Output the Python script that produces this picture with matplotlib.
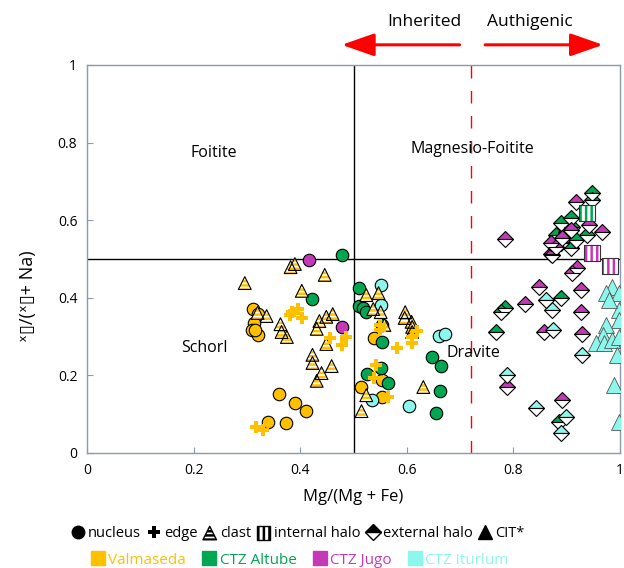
import matplotlib
matplotlib.use('Agg')
import matplotlib.pyplot as plt
from matplotlib.lines import Line2D

plt.rcParams['font.family'] = ['Open Sans', 'DejaVu Sans']
plt.rcParams['hatch.linewidth'] = 1.8

ORANGE = '#FFC000'
GREEN = '#00A651'
MAGENTA = '#C43AB6'
CYAN = '#8CF7EC'

# ---------------- data ----------------
# Valmaseda
val_nuc_x = [0.311, 0.320, 0.313, 0.309, 0.320, 0.316, 0.361, 0.390, 0.410, 0.339, 0.373, 0.539, 0.515, 0.554, 0.554]
val_nuc_y = [0.371, 0.358, 0.335, 0.317, 0.304, 0.317, 0.152, 0.129, 0.108, 0.080, 0.077, 0.296, 0.170, 0.188, 0.144]
val_edge_x = [0.384, 0.395, 0.403, 0.380, 0.455, 0.478, 0.485, 0.318, 0.331, 0.549, 0.549, 0.582, 0.609, 0.609, 0.620, 0.543, 0.539, 0.564]
val_edge_y = [0.363, 0.371, 0.348, 0.356, 0.296, 0.278, 0.299, 0.067, 0.059, 0.330, 0.317, 0.271, 0.284, 0.299, 0.314, 0.227, 0.193, 0.144]
val_clast_x = [0.296, 0.382, 0.390, 0.446, 0.403, 0.320, 0.337, 0.363, 0.365, 0.375, 0.436, 0.449, 0.461, 0.431, 0.449,
               0.423, 0.423, 0.440, 0.431, 0.459, 0.524, 0.547, 0.537, 0.551, 0.597, 0.596, 0.609, 0.610, 0.610, 0.558,
               0.631, 0.524, 0.515]
val_clast_y = [0.438, 0.479, 0.487, 0.459, 0.418, 0.361, 0.353, 0.332, 0.312, 0.299, 0.340, 0.351, 0.358, 0.320, 0.281,
               0.253, 0.232, 0.206, 0.186, 0.224, 0.407, 0.412, 0.371, 0.363, 0.363, 0.348, 0.338, 0.325, 0.312, 0.330,
               0.170, 0.149, 0.108]

# CTZ Altube
alt_nuc_x = [0.478, 0.423, 0.511, 0.511, 0.517, 0.524, 0.554, 0.648, 0.665, 0.526, 0.552, 0.564, 0.663, 0.654, 0.554]
alt_nuc_y = [0.510, 0.397, 0.425, 0.379, 0.374, 0.363, 0.286, 0.247, 0.224, 0.204, 0.219, 0.180, 0.160, 0.103, 0.330]
alt_int_x = [0.938]
alt_int_y = [0.619]
alt_ext_x = [0.785, 0.777, 0.768, 0.890, 0.886, 0.948, 0.948, 0.890, 0.880, 0.910, 0.899, 0.918, 0.938, 0.908, 0.890, 0.908]
alt_ext_y = [0.374, 0.363, 0.312, 0.399, 0.080, 0.670, 0.652, 0.593, 0.562, 0.582, 0.570, 0.549, 0.562, 0.528, 0.541, 0.606]

# CTZ Jugo
jug_nuc_x = [0.416, 0.479]
jug_nuc_y = [0.497, 0.325]
jug_int_x = [0.948, 0.981]
jug_int_y = [0.515, 0.482]
jug_ext_x = [0.785, 0.918, 0.908, 0.891, 0.871, 0.880, 0.871, 0.942, 0.966, 0.919, 0.910, 0.848, 0.927, 0.822, 0.927,
             0.858, 0.929, 0.788, 0.891, 0.873]
jug_ext_y = [0.552, 0.647, 0.575, 0.554, 0.541, 0.531, 0.513, 0.588, 0.570, 0.477, 0.464, 0.428, 0.420, 0.384, 0.363,
             0.312, 0.307, 0.170, 0.137, 0.510]

# CTZ Iturlum
itu_nuc_x = [0.552, 0.552, 0.661, 0.672, 0.534, 0.605]
itu_nuc_y = [0.433, 0.381, 0.302, 0.307, 0.137, 0.121]
itu_ext_x = [0.861, 0.873, 0.875, 0.929, 0.788, 0.843, 0.899, 0.890]
itu_ext_y = [0.394, 0.369, 0.317, 0.253, 0.201, 0.116, 0.093, 0.052]
itu_cit_x = [0.985, 0.974, 0.998, 0.998, 0.998, 0.974, 0.968, 0.955, 0.970, 0.985, 0.998, 0.989, 0.998, 0.979, 0.994]
itu_cit_y = [0.428, 0.412, 0.412, 0.369, 0.343, 0.330, 0.304, 0.284, 0.284, 0.291, 0.299, 0.175, 0.080, 0.394, 0.253]

x_ticks = [0, 0.2, 0.4, 0.6, 0.8, 1]
tick_labels = ['0', '0.2', '0.4', '0.6', '0.8', '1']

# ---------------- figure ----------------
fig = plt.figure(figsize=(6.24, 5.68), dpi=100)
ax = fig.add_axes([87 / 624, 1 - 453 / 568, (620 - 87) / 624, (453 - 65) / 568])
ax.set_xlim(0, 1)
ax.set_ylim(0, 1)
ax.set_xticks(x_ticks)
ax.set_xticklabels(tick_labels)
ax.set_yticks(x_ticks)
ax.set_yticklabels(tick_labels)
SPINE = '#8C9AAB'
for s in ax.spines.values():
    s.set_color(SPINE)
    s.set_linewidth(1)
ax.tick_params(direction='in', length=4, color=SPINE, labelsize=10, pad=7)

ax.axhline(0.5, color='black', lw=1, zorder=1)
ax.axvline(0.5, color='black', lw=1, zorder=1)
ax.axvline(0.72, color='red', lw=1, ls=(0, (9, 9)), zorder=1)

# nucleus circles
CS = 9
for xs, ys, c in [(val_nuc_x, val_nuc_y, ORANGE), (alt_nuc_x, alt_nuc_y, GREEN),
                  (jug_nuc_x, jug_nuc_y, MAGENTA), (itu_nuc_x, itu_nuc_y, CYAN)]:
    ax.plot(xs, ys, 'o', ms=CS, mfc=c, mec='black', mew=0.8, zorder=3)

# external halo diamonds (top half coloured)
for xs, ys, c in [(alt_ext_x, alt_ext_y, GREEN), (jug_ext_x, jug_ext_y, MAGENTA), (itu_ext_x, itu_ext_y, CYAN)]:
    ax.plot(xs, ys, 'D', ms=8, fillstyle='top', mfc=c, mfcalt='white', mec='black', mew=0.8, zorder=3)

# clast triangles (striped)
ax.scatter(val_clast_x, val_clast_y, s=85, marker='^', facecolor='white', edgecolor=ORANGE,
           hatch='----', linewidth=0, zorder=4)
ax.scatter(val_clast_x, val_clast_y, s=85, marker='^', facecolor='none', edgecolor='black',
           linewidth=0.8, zorder=4)

# edge pluses
ax.plot(val_edge_x, val_edge_y, 'P', ms=9, mfc=ORANGE, mec=ORANGE, mew=0, zorder=5)

# internal halo squares
for xs, ys, c in [(alt_int_x, alt_int_y, GREEN), (jug_int_x, jug_int_y, MAGENTA)]:
    ax.scatter(xs, ys, s=130, marker='s', facecolor='white', edgecolor=c, hatch='|||', linewidth=0, zorder=5)
    ax.scatter(xs, ys, s=130, marker='s', facecolor='none', edgecolor='#333333', linewidth=0.8, zorder=5)

# CIT triangles
ax.plot(itu_cit_x, itu_cit_y, '^', ms=11, mfc=CYAN, mec='#555555', mew=0.6, zorder=5)

# field names
ax.text(0.238, 0.773, 'Foitite', fontsize=11.5, ha='center', va='center')
ax.text(0.723, 0.784, 'Magnesio-Foitite', fontsize=11.5, ha='center', va='center')
ax.text(0.221, 0.271, 'Schorl', fontsize=11.5, ha='center', va='center')
ax.text(0.725, 0.258, 'Dravite', fontsize=11.5, ha='center', va='center', zorder=6)

# arrows
ap = dict(arrowstyle='-|>,head_length=1.0,head_width=0.35', color='red', lw=2.2,
          mutation_scale=20, shrinkA=0, shrinkB=0)
ax.annotate('', xy=(0.478, 1.052), xytext=(0.699, 1.052), arrowprops=ap, annotation_clip=False)
ax.annotate('', xy=(0.968, 1.052), xytext=(0.747, 1.052), arrowprops=ap, annotation_clip=False)
ax.text(0.633, 1.111, 'Inherited', fontsize=12.5, ha='center', va='center', clip_on=False)
ax.text(0.831, 1.111, 'Authigenic', fontsize=12.5, ha='center', va='center', clip_on=False)

ax.set_xlabel('Mg/(Mg + Fe)', fontsize=12, labelpad=8)
fig.text(28 / 624, 1 - 296 / 568, 'ˣ▯/(ˣ▯+ Na)', rotation=90, fontsize=13, ha='center', va='center')

# legends
h_nuc = Line2D([], [], marker='o', ls='none', color='black', ms=9)
h_edge = Line2D([], [], marker='P', ls='none', color='black', ms=9, mew=0)
h_clast = ax.scatter([], [], s=[95], marker='^', facecolor='white', edgecolor='black', hatch='----', linewidth=1)
h_int = ax.scatter([], [], s=[95], marker='s', facecolor='white', edgecolor='black', hatch='|||', linewidth=1)
h_ext = Line2D([], [], marker='D', ls='none', ms=8, fillstyle='top', mfc='black', mfcalt='white', mec='black', mew=1)
h_cit = Line2D([], [], marker='^', ls='none', color='black', ms=10)
leg1 = fig.legend([h_nuc, h_edge, h_clast, h_int, h_ext, h_cit],
                  ['nucleus', 'edge', 'clast', 'internal halo', 'external halo', 'CIT*'],
                  loc='center', bbox_to_anchor=(0.478, 0.061), ncol=6, frameon=False,
                  handlelength=0.8, handletextpad=0.3, columnspacing=0.45, fontsize=10.5, borderpad=0)

grp_names = ['Valmaseda', 'CTZ Altube', 'CTZ Jugo', 'CTZ Iturlum']
grp_colors = [ORANGE, GREEN, MAGENTA, CYAN]
h_grp = [Line2D([], [], marker='s', ls='none', color=c, ms=10) for c in grp_colors]
leg2 = fig.legend(h_grp, grp_names, loc='center', bbox_to_anchor=(0.481, 0.014), ncol=4, frameon=False,
                  handlelength=0.8, handletextpad=0.3, columnspacing=1.1, fontsize=11, borderpad=0)
for t, c in zip(leg2.get_texts(), grp_colors):
    t.set_color(c)

fig.savefig('out.png', dpi=100)
